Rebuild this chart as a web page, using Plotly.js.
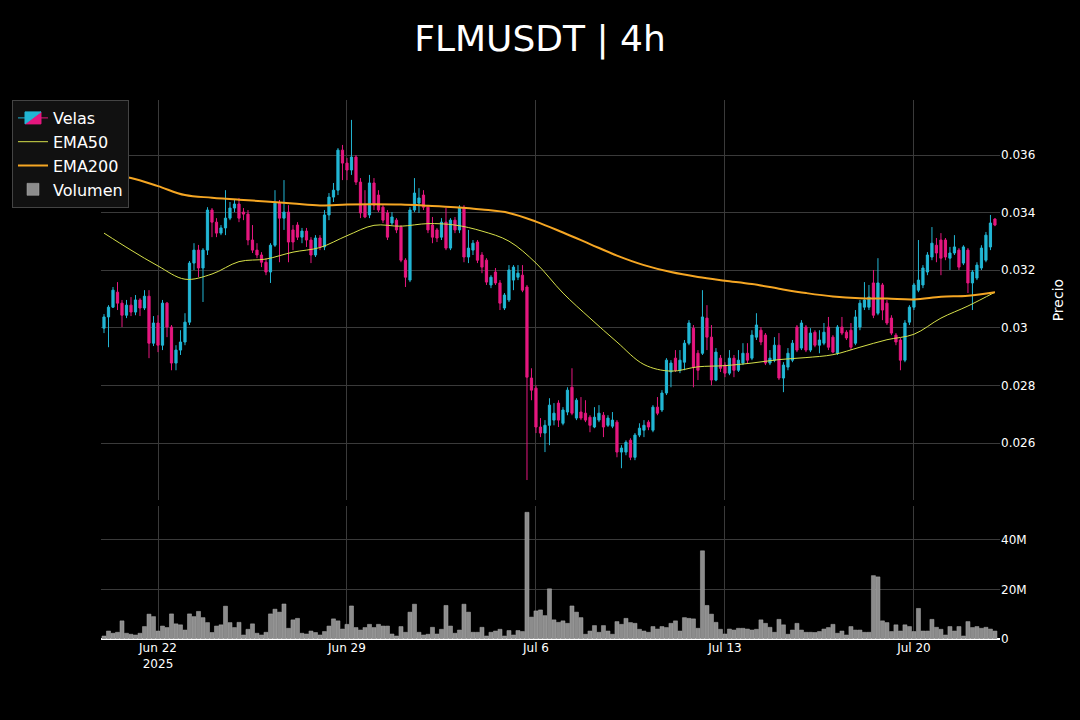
<!DOCTYPE html>
<html>
<head>
<meta charset="utf-8">
<script src="https://cdn.plot.ly/plotly-3.0.1.min.js"></script>
<style>
  html, body { margin: 0; padding: 0; background: #000; }
  #chart { width: 1080px; height: 720px; }
</style>
</head>
<body>
<div id="chart"></div>
<script>
// FLMUSDT 4h candles, 2025-06-20 00:00 UTC to 2025-07-23 00:00 UTC
const symbol = 'FLMUSDT';
const interval = '4h';
const firstCandle = Date.UTC(2025, 5, 20, 0, 0);
const candleMs = 4 * 3600 * 1000;

const open = [
  0.02999,0.03038,0.03072,0.03124,0.03086,0.03044,0.03079,0.03055,0.03097,0.03069,
  0.03110,0.02947,0.03017,0.02940,0.03086,0.03003,0.02878,0.02923,0.02951,0.03020,
  0.03225,0.03270,0.03208,0.03270,0.03409,0.03367,0.03329,0.03347,0.03381,0.03416,
  0.03430,0.03402,0.03395,0.03305,0.03270,0.03253,0.03228,0.03194,0.03287,0.03433,
  0.03381,0.03402,0.03340,0.03357,0.03315,0.03336,0.03305,0.03253,0.03312,0.03281,
  0.03392,0.03454,0.03478,0.03617,0.03572,0.03548,0.03593,0.03506,0.03426,0.03392,
  0.03503,0.03461,0.03419,0.03399,0.03364,0.03374,0.03350,0.03235,0.03166,0.03409,
  0.03433,0.03461,0.03419,0.03357,0.03340,0.03315,0.03367,0.03277,0.03374,0.03340,
  0.03419,0.03246,0.03270,0.03298,0.03253,0.03235,0.03149,0.03194,0.03156,0.03069,
  0.03097,0.03166,0.03176,0.03183,0.03142,0.02826,0.02791,0.02656,0.02635,0.02662,
  0.02680,0.02739,0.02669,0.02708,0.02794,0.02687,0.02708,0.02704,0.02690,0.02656,
  0.02680,0.02697,0.02662,0.02659,0.02673,0.02569,0.02569,0.02610,0.02551,0.02628,
  0.02645,0.02673,0.02645,0.02725,0.02715,0.02774,0.02847,0.02895,0.02853,0.02881,
  0.02947,0.02999,0.02912,0.02912,0.03034,0.02968,0.02819,0.02895,0.02871,0.02843,
  0.02895,0.02853,0.02878,0.02912,0.02895,0.02968,0.02992,0.02975,0.02878,0.02888,
  0.02940,0.02826,0.02864,0.02888,0.03003,0.02930,0.03003,0.02923,0.02985,0.02940,
  0.02947,0.03003,0.02968,0.02912,0.03003,0.02985,0.02992,0.02947,0.03003,0.03072,
  0.03072,0.03156,0.03051,0.03149,0.03086,0.03034,0.02975,0.02958,0.02888,0.03020,
  0.03072,0.03131,0.03149,0.03194,0.03246,0.03287,0.03305,0.03305,0.03242,0.03260,
  0.03270,0.03225,0.03270,0.03156,0.03173,0.03208,0.03235,0.03281,0.03378
];
const high = [
  0.03048,0.03079,0.03142,0.03159,0.03097,0.03097,0.03107,0.03114,0.03103,0.03131,
  0.03131,0.03041,0.03044,0.03097,0.03090,0.03010,0.02940,0.02992,0.03051,0.03232,
  0.03294,0.03288,0.03277,0.03419,0.03416,0.03381,0.03357,0.03478,0.03437,0.03444,
  0.03451,0.03416,0.03409,0.03357,0.03294,0.03263,0.03242,0.03294,0.03478,0.03444,
  0.03513,0.03426,0.03357,0.03367,0.03347,0.03347,0.03315,0.03322,0.03322,0.03409,
  0.03468,0.03503,0.03624,0.03635,0.03590,0.03722,0.03600,0.03520,0.03478,0.03531,
  0.03520,0.03478,0.03426,0.03409,0.03402,0.03381,0.03357,0.03242,0.03419,0.03520,
  0.03485,0.03478,0.03426,0.03385,0.03347,0.03381,0.03416,0.03381,0.03385,0.03426,
  0.03426,0.03340,0.03305,0.03305,0.03263,0.03242,0.03183,0.03208,0.03166,0.03121,
  0.03218,0.03218,0.03218,0.03218,0.03149,0.02860,0.02801,0.02687,0.02680,0.02756,
  0.02739,0.02749,0.02725,0.02794,0.02860,0.02756,0.02760,0.02749,0.02697,0.02725,
  0.02732,0.02708,0.02697,0.02708,0.02680,0.02593,0.02610,0.02617,0.02635,0.02669,
  0.02680,0.02680,0.02732,0.02760,0.02784,0.02895,0.02888,0.02923,0.02923,0.02958,
  0.03027,0.03010,0.02923,0.03131,0.03079,0.03010,0.02930,0.02906,0.02881,0.02923,
  0.02906,0.02923,0.02947,0.02947,0.02992,0.03051,0.03003,0.02982,0.02923,0.02968,
  0.02982,0.02881,0.02930,0.02958,0.03010,0.03027,0.03010,0.02999,0.02992,0.02992,
  0.03017,0.03038,0.02975,0.03010,0.03038,0.02992,0.03017,0.03062,0.03097,0.03159,
  0.03149,0.03201,0.03242,0.03156,0.03097,0.03044,0.02982,0.02965,0.03027,0.03079,
  0.03156,0.03305,0.03218,0.03263,0.03350,0.03312,0.03329,0.03312,0.03281,0.03322,
  0.03277,0.03287,0.03277,0.03201,0.03228,0.03287,0.03333,0.03392,0.03381
];
const low = [
  0.02982,0.02933,0.03069,0.03062,0.03003,0.03034,0.03041,0.03044,0.03041,0.03062,
  0.02895,0.02937,0.02916,0.02923,0.02968,0.02853,0.02853,0.02906,0.02940,0.03010,
  0.03201,0.03176,0.03090,0.03253,0.03315,0.03315,0.03322,0.03322,0.03374,0.03402,
  0.03367,0.03374,0.03287,0.03260,0.03242,0.03211,0.03183,0.03156,0.03281,0.03228,
  0.03340,0.03228,0.03270,0.03305,0.03294,0.03281,0.03225,0.03246,0.03270,0.03270,
  0.03374,0.03437,0.03461,0.03513,0.03513,0.03531,0.03496,0.03381,0.03381,0.03381,
  0.03409,0.03402,0.03364,0.03305,0.03357,0.03329,0.03228,0.03142,0.03159,0.03402,
  0.03399,0.03409,0.03329,0.03294,0.03298,0.03305,0.03270,0.03270,0.03329,0.03329,
  0.03228,0.03225,0.03253,0.03225,0.03190,0.03149,0.03138,0.03149,0.03062,0.03062,
  0.03090,0.03131,0.03166,0.03124,0.02472,0.02749,0.02635,0.02621,0.02569,0.02593,
  0.02662,0.02656,0.02662,0.02697,0.02697,0.02680,0.02680,0.02673,0.02638,0.02652,
  0.02673,0.02621,0.02656,0.02652,0.02551,0.02513,0.02558,0.02541,0.02541,0.02621,
  0.02621,0.02645,0.02638,0.02697,0.02708,0.02767,0.02794,0.02847,0.02843,0.02853,
  0.02940,0.02794,0.02819,0.02906,0.02923,0.02801,0.02815,0.02847,0.02829,0.02836,
  0.02829,0.02847,0.02871,0.02878,0.02888,0.02958,0.02940,0.02871,0.02871,0.02881,
  0.02819,0.02777,0.02853,0.02881,0.02916,0.02923,0.02916,0.02916,0.02933,0.02912,
  0.02940,0.02923,0.02912,0.02906,0.02975,0.02958,0.02923,0.02940,0.02992,0.03062,
  0.03062,0.03034,0.03044,0.03027,0.03010,0.02975,0.02940,0.02853,0.02881,0.03010,
  0.03062,0.03124,0.03138,0.03183,0.03235,0.03228,0.03183,0.03235,0.03201,0.03253,
  0.03201,0.03218,0.03121,0.03062,0.03166,0.03201,0.03228,0.03270,0.03353
];
const close = [
  0.03038,0.03072,0.03131,0.03086,0.03044,0.03079,0.03055,0.03097,0.03069,0.03110,
  0.02947,0.03017,0.02940,0.03086,0.03003,0.02878,0.02923,0.02951,0.03020,0.03225,
  0.03270,0.03208,0.03270,0.03409,0.03367,0.03329,0.03347,0.03381,0.03416,0.03430,
  0.03381,0.03395,0.03305,0.03270,0.03253,0.03228,0.03194,0.03287,0.03433,0.03381,
  0.03402,0.03298,0.03298,0.03315,0.03336,0.03305,0.03253,0.03312,0.03281,0.03392,
  0.03454,0.03478,0.03617,0.03572,0.03548,0.03593,0.03506,0.03399,0.03385,0.03503,
  0.03426,0.03409,0.03374,0.03315,0.03385,0.03340,0.03235,0.03176,0.03409,0.03468,
  0.03451,0.03419,0.03340,0.03315,0.03312,0.03367,0.03277,0.03374,0.03340,0.03419,
  0.03246,0.03277,0.03294,0.03235,0.03211,0.03159,0.03176,0.03156,0.03086,0.03114,
  0.03201,0.03211,0.03190,0.03131,0.02829,0.02784,0.02656,0.02635,0.02662,0.02732,
  0.02704,0.02680,0.02715,0.02784,0.02704,0.02749,0.02687,0.02680,0.02662,0.02690,
  0.02704,0.02656,0.02687,0.02680,0.02569,0.02583,0.02603,0.02551,0.02628,0.02652,
  0.02662,0.02656,0.02725,0.02704,0.02774,0.02888,0.02878,0.02853,0.02888,0.02947,
  0.03017,0.02864,0.02853,0.03038,0.02968,0.02819,0.02916,0.02860,0.02843,0.02895,
  0.02853,0.02888,0.02912,0.02888,0.02975,0.03010,0.02951,0.02878,0.02895,0.02940,
  0.02826,0.02871,0.02912,0.02947,0.02923,0.03017,0.02923,0.02982,0.02940,0.02958,
  0.02985,0.02933,0.02916,0.03003,0.02982,0.02965,0.02933,0.03038,0.03086,0.03097,
  0.03107,0.03044,0.03156,0.03062,0.03017,0.02982,0.02951,0.02888,0.03017,0.03072,
  0.03149,0.03166,0.03208,0.03253,0.03294,0.03260,0.03242,0.03246,0.03260,0.03281,
  0.03211,0.03281,0.03156,0.03194,0.03218,0.03277,0.03322,0.03364,0.03357
];
// Volume per candle, in millions of FLM
const volumeM = [
  1.2,3.2,2.3,2.7,7.3,2.3,1.9,1.6,2.3,5.0,
  10.0,9.0,3.2,5.2,4.6,10.1,6.1,5.7,3.6,10.1,
  9.0,11.1,8.6,6.6,2.6,5.2,5.7,13.2,6.6,4.6,
  6.7,1.6,3.9,6.1,2.3,1.6,2.7,10.1,12.0,10.8,
  14.1,4.3,7.7,8.3,2.3,2.0,3.2,2.6,1.6,3.0,
  5.2,8.1,7.3,4.0,5.9,13.3,4.6,3.6,4.6,5.9,
  4.6,5.9,5.2,5.2,2.0,1.2,5.0,2.7,10.8,14.0,
  2.7,1.6,1.9,4.7,2.0,3.9,13.5,5.2,2.3,3.6,
  14.0,10.8,2.7,2.7,4.7,1.2,2.7,3.2,3.9,1.2,
  3.4,1.6,3.4,3.0,51.0,8.8,11.3,11.7,9.4,20.2,
  7.7,6.7,7.3,6.3,13.3,10.8,8.6,1.9,3.2,5.4,
  2.7,5.4,3.2,1.9,7.0,5.9,8.3,6.6,6.3,3.9,
  3.2,2.7,5.0,4.0,5.0,4.6,6.3,7.3,3.2,8.6,
  8.3,8.1,4.3,35.5,13.5,10.0,6.7,3.9,2.0,4.0,
  3.6,4.3,4.3,4.0,3.6,3.9,7.7,6.3,4.7,2.7,
  7.9,5.7,1.9,3.6,6.3,3.6,2.7,2.7,2.6,3.0,
  4.0,4.6,5.9,2.3,3.2,1.6,5.0,3.6,3.6,2.7,
  2.7,25.5,25.0,7.3,6.6,3.0,5.7,3.2,5.7,5.0,
  3.0,12.3,3.2,3.2,7.9,4.7,3.9,1.6,5.0,3.2,
  5.0,1.2,7.0,4.6,5.0,4.3,4.7,4.0,3.2
];
// Moving averages sampled once a day at 00:00 UTC
const ema50 = [
  0.03329,0.03270,0.03215,0.03169,0.03187,0.03230,0.03239,0.03263,0.03279,0.03320,
  0.03356,0.03353,0.03362,0.03357,0.03336,0.03301,0.03225,0.03121,0.03034,0.02951,
  0.02873,0.02850,0.02865,0.02869,0.02878,0.02890,0.02897,0.02907,0.02933,0.02959,
  0.02978,0.03034,0.03076,0.03124
];
const ema200 = [
  0.03534,0.03520,0.03492,0.03461,0.03452,0.03445,0.03439,0.03432,0.03425,0.03428,
  0.03429,0.03428,0.03424,0.03419,0.03411,0.03399,0.03369,0.03331,0.03291,0.03251,
  0.03218,0.03194,0.03177,0.03164,0.03152,0.03136,0.03121,0.03109,0.03103,0.03102,
  0.03099,0.03108,0.03112,0.03124
];

function stamp(ms) {
  return new Date(ms).toISOString().slice(0, 16).replace('T', ' ');
}
const times = open.map((_, i) => stamp(firstCandle + i * candleMs));
const dayTimes = ema50.map((_, i) => stamp(firstCandle + i * 6 * candleMs));
const volume = volumeM.map(v => v * 1e6);

const upColor = '#22b6d4';
const downColor = '#e5177f';
const grid = '#3a3a3a';

const traces = [
  {
    type: 'candlestick', name: 'Velas',
    x: times, open: open, high: high, low: low, close: close,
    xaxis: 'x', yaxis: 'y',
    increasing: { line: { color: upColor, width: 1 }, fillcolor: upColor },
    decreasing: { line: { color: downColor, width: 1 }, fillcolor: downColor },
    whiskerwidth: 0
  },
  {
    type: 'scatter', mode: 'lines', name: 'EMA50',
    x: dayTimes, y: ema50, xaxis: 'x', yaxis: 'y',
    line: { color: '#d6e04a', width: 1, shape: 'spline' }
  },
  {
    type: 'scatter', mode: 'lines', name: 'EMA200',
    x: dayTimes, y: ema200, xaxis: 'x', yaxis: 'y',
    line: { color: '#f5a623', width: 2, shape: 'spline' }
  },
  {
    type: 'bar', name: 'Volumen',
    x: times, y: volume, xaxis: 'x2', yaxis: 'y2',
    marker: { color: '#8c8c8c', line: { color: '#b0b0b0', width: 0.5 } }
  }
];

const xRange = ['2025-06-19 21:20', '2025-07-23 04:30'];

const layout = {
  width: 1080, height: 720,
  paper_bgcolor: '#000000', plot_bgcolor: '#000000',
  font: { family: 'DejaVu Sans, sans-serif', color: '#ffffff', size: 12 },
  title: {
    text: symbol + ' | ' + interval,
    x: 0.5, xanchor: 'center', y: 0.947, yanchor: 'middle', yref: 'container',
    font: { size: 36, color: '#ffffff' }
  },
  margin: { l: 101, r: 80, t: 100, b: 81 },
  showlegend: true,
  legend: {
    x: -0.099, y: 1, xanchor: 'left', yanchor: 'top',
    bgcolor: '#111111', bordercolor: '#444444', borderwidth: 1,
    font: { size: 16, color: '#ffffff' }
  },
  bargap: 0.1,
  xaxis: {
    domain: [0, 1], anchor: 'y', matches: 'x2', range: xRange,
    showticklabels: false, showgrid: true, gridcolor: grid, zeroline: false,
    rangeslider: { visible: false }, type: 'date',
    dtick: 7 * 86400000, tick0: '2025-06-22'
  },
  yaxis: {
    domain: [0.2575, 1], anchor: 'x', side: 'right',
    range: [0.02402, 0.03791], dtick: 0.002,
    showgrid: true, gridcolor: grid, zeroline: false,
    title: { text: 'Precio', standoff: 18, font: { size: 14, color: '#ffffff' } }
  },
  xaxis2: {
    domain: [0, 1], anchor: 'y2', range: xRange, type: 'date',
    showgrid: true, gridcolor: grid, zeroline: false,
    dtick: 7 * 86400000, tick0: '2025-06-22',
    tickfont: { size: 12, color: '#ffffff' }
  },
  yaxis2: {
    domain: [0, 0.2475], anchor: 'x2', side: 'right',
    range: [0, 53.7e6], dtick: 2e7,
    showgrid: true, gridcolor: grid,
    zeroline: true, zerolinecolor: '#ffffff', zerolinewidth: 2
  }
};

Plotly.newPlot('chart', traces, layout, { displayModeBar: false, staticPlot: true });
</script>
</body>
</html>
